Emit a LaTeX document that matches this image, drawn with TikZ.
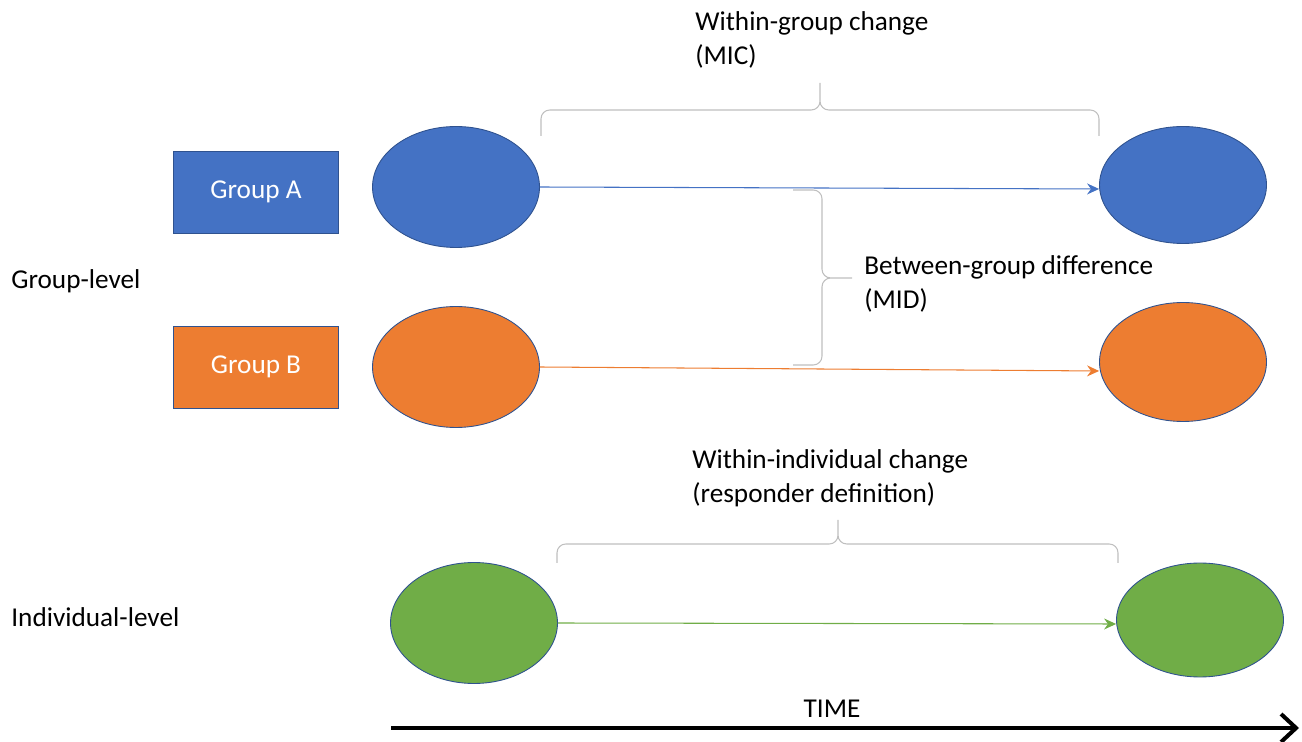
\documentclass[tikz,border=0pt]{standalone}
\usepackage{fontspec}
\setmainfont{Carlito}
\usetikzlibrary{shapes.geometric,arrows.meta}
\definecolor{grpblue}{HTML}{4472C4}
\definecolor{grporange}{HTML}{ED7D31}
\definecolor{grpgreen}{HTML}{70AD47}
\definecolor{edgeblue}{HTML}{2F528F}
\definecolor{bracegray}{HTML}{BFBFBF}

\begin{document}
\begin{tikzpicture}[x=0.02cm, y=-0.02cm]
  \tikzset{grp/.style={draw=edgeblue, line width=0.5pt, minimum width=3.3cm, minimum height=1.64cm, text=white, font=\fontsize{15.5}{19}\selectfont},
    ell/.style={ellipse, draw=edgeblue, line width=0.5pt, minimum width=3.34cm, minimum height=2.42cm},
    flow/.style={-{Stealth[length=0.24cm, width=0.22cm]}, line width=0.6pt},
    brc/.style={draw=bracegray, line width=0.6pt, rounded corners=5pt},
    lbl/.style={anchor=west, inner sep=0pt, align=left, font=\fontsize{15.5}{19.5}\selectfont}}
  \useasboundingbox (0,0) rectangle (1302,742);

  \node[grp, fill=grpblue] (ga) at (256,192) {Group A};
  \node[grp, fill=grporange] (gb) at (256,367) {Group B};

  \node[ell, fill=grpblue] (a0) at (456,187) {};
  \node[ell, fill=grpblue, minimum height=2.34cm] (a1) at (1183,185) {};
  \node[ell, fill=grporange] (b0) at (456,367) {};
  \node[ell, fill=grporange, minimum height=2.38cm] (b1) at (1183,362) {};
  \node[ell, fill=grpgreen] (c0) at (474,623) {};
  \node[ell, fill=grpgreen, minimum height=2.28cm] (c1) at (1200,620) {};

  \draw[flow, grpblue] (a0.east) -- ([yshift=-0.08cm]a1.west);
  \draw[flow, grporange] (b0.east) -- ([yshift=-0.18cm]b1.west);
  \draw[flow, grpgreen] (c0.east) -- ([yshift=-0.08cm]c1.west);

  \draw[brc] (541,136) -- (541,110) -- (820,110) -- (820,83)
    (820,83) -- (820,110) -- (1099,110) -- (1099,136);
  \draw[brc] (793,190) -- (822,190) -- (822,278) -- (852,278)
    (852,278) -- (822,278) -- (822,365) -- (793,365);
  \draw[brc] (557,563) -- (557,544) -- (838,544) -- (838,520)
    (838,520) -- (838,544) -- (1118,544) -- (1118,563);

  \node[lbl] (mic) at (695,40) {Within-group change\\(MIC)};
  \node[lbl] (mid) at (864,284) {Between-group difference\\(MID)};
  \node[lbl] (resp) at (692,478) {Within-individual change\\(responder definition)};
  \node[lbl] (grplvl) at (11,281) {Group-level};
  \node[lbl] (indlvl) at (11,617) {Individual-level};

  \node[font=\fontsize{15.5}{19}\selectfont] (time) at (832,709) {TIME};
  \coordinate (t0) at (391,728);
  \coordinate (t1) at (1299,728);
  \draw[-{Straight Barb[length=0.3cm, width=0.56cm]}, line width=2.3pt] (t0) -- (t1);
\end{tikzpicture}
\end{document}
